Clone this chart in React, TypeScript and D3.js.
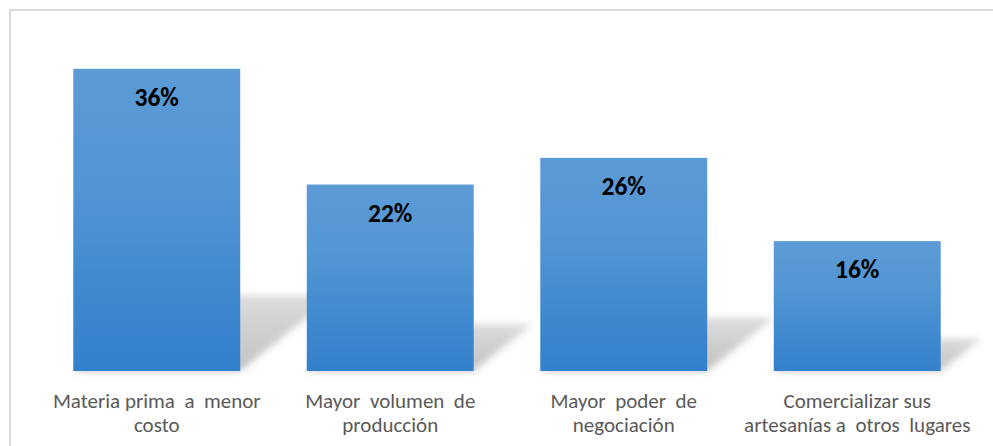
import React from "react";
import * as d3 from "d3";

const categories = [
  "Materia prima a menor costo",
  "Mayor volumen de producción",
  "Mayor poder de negociación",
  "Comercializar sus artesanías a otros lugares",
];
const categoryLines = [
  ["Materia prima  a  menor", "costo"],
  ["Mayor  volumen  de", "producción"],
  ["Mayor  poder  de", "negociación"],
  ["Comercializar sus", "artesanías a  otros  lugares"],
];
const values = [36.3, 22.4, 25.6, 15.6];

const W = 993;
const H = 446;
const plotLeft = 40;
const plotRight = 974;
const baseY = 371;
const topY = 38;

export default function App() {
  const x = d3
    .scaleBand<string>()
    .domain(categories)
    .range([plotLeft, plotRight])
    .paddingInner(0.285)
    .paddingOuter(0.1425);
  const y = d3.scaleLinear().domain([0, 40]).range([baseY, topY]);
  const fmt = (v: number) => `${d3.format(".0f")(v)}%`;
  const font = "Carlito, Calibri, 'Open Sans', sans-serif";

  return (
    <svg
      width={W}
      height={H}
      style={{ position: "absolute", left: 0, top: 0, display: "block", background: "#fff" }}
    >
      <defs>
        <linearGradient id="barGrad" x1="0" y1="0" x2="0" y2="1">
          <stop offset="0%" stopColor="#5c9bd5" />
          <stop offset="35%" stopColor="#5396d4" />
          <stop offset="100%" stopColor="#3380cb" />
        </linearGradient>
        <filter id="shadowBlur" x="-20%" y="-50%" width="140%" height="200%">
          <feGaussianBlur stdDeviation="3.5" />
        </filter>
        <linearGradient id="shadowGrad" x1="0" y1="1" x2="0" y2="0">
          <stop offset="0%" stopColor="#bdbdbd" stopOpacity={0.95} />
          <stop offset="100%" stopColor="#cfcfcf" stopOpacity={0.75} />
        </linearGradient>
      </defs>
      <rect x={10} y={10} width={1100} height={600} fill="#fff" stroke="#d9d9d9" strokeWidth={2} />

      {categories.map((c, i) => {
        const x0 = x(c)!;
        const x1 = x0 + x.bandwidth();
        const h = baseY - y(values[i]);
        const hs = h * 0.25;
        const dx = hs * 1.25;
        const pts = [
          [x0, baseY],
          [x1, baseY],
          [x1 + dx, baseY - hs],
          [x0 + dx, baseY - hs],
        ];
        return (
          <path
            key={`s${i}`}
            d={d3.line()(pts as [number, number][])! + "Z"}
            fill="url(#shadowGrad)"
            filter="url(#shadowBlur)"
          />
        );
      })}

      {categories.map((c, i) => (
        <rect
          key={`b${i}`}
          x={x(c)}
          y={y(values[i])}
          width={x.bandwidth()}
          height={baseY - y(values[i])}
          fill="url(#barGrad)"
        />
      ))}

      {categories.map((c, i) => (
        <text
          key={`v${i}`}
          x={x(c)! + x.bandwidth() / 2}
          y={y(values[i]) + 37}
          textAnchor="middle"
          fontFamily={font}
          fontWeight="bold"
          fontSize={25.5}
          fill="#000"
        >
          {fmt(values[i])}
        </text>
      ))}

      {categories.map((c, i) => (
        <text
          key={`c${i}`}
          textAnchor="middle"
          fontFamily={font}
          fontSize={21}
          fill="#595959"
          style={{ whiteSpace: "pre" }}
        >
          {categoryLines[i].map((line, j) => (
            <tspan key={j} x={x(c)! + x.bandwidth() / 2} y={408 + j * 23.5}>
              {line}
            </tspan>
          ))}
        </text>
      ))}
    </svg>
  );
}
